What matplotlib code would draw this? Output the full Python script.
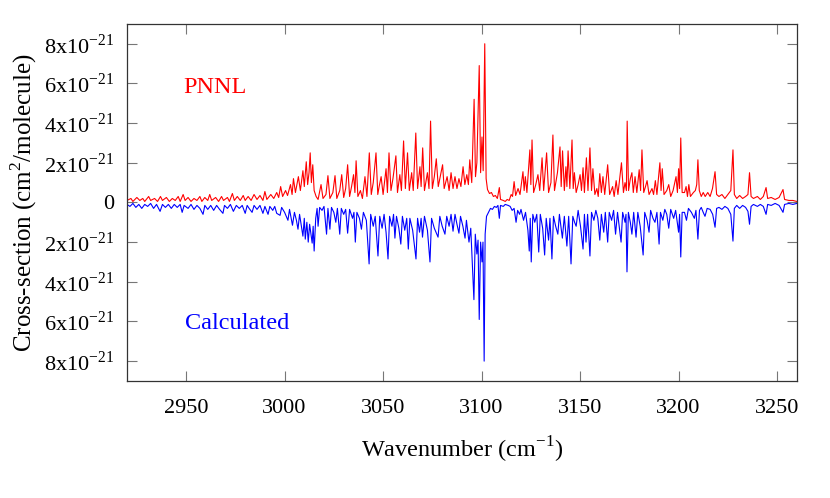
import matplotlib
matplotlib.use("Agg")
import numpy as np
from matplotlib import pyplot as plt

plt.rcParams['font.family'] = ['Liberation Serif', 'DejaVu Serif']
plt.rcParams['mathtext.fontset'] = 'custom'
plt.rcParams['mathtext.rm'] = 'Liberation Serif'

# PNNL measured spectrum, wavenumber (cm-1) and cross-section (1e-21 cm2/molecule)
pnnl_wn = [2920, 2922, 2923, 2925, 2926.5, 2928, 2929, 2931, 2932, 2934, 2935.5, 2937, 2938, 2940, 2941.5,
           2943, 2944.5, 2946, 2947, 2948.5, 2949.5, 2951, 2952.5, 2954, 2955.5, 2957, 2958, 2959.5, 2961,
           2962, 2963, 2965, 2966.5, 2968, 2969, 2971, 2972, 2973.5, 2974.5, 2976, 2977.5, 2979, 2980,
           2981.5, 2983, 2984.5, 2986, 2987.5, 2989, 2990, 2991, 2993, 2994.5, 2996, 2997, 2998, 2999,
           3000.5, 3001.5, 3003, 3003.8, 3004.5, 3005.5, 3007, 3008, 3009.3, 3010, 3011, 3011.7, 3012.4,
           3013, 3013.6, 3014.3, 3015, 3016, 3017, 3018.5, 3019.5, 3021, 3022, 3023, 3024.5, 3025.6, 3026.5,
           3028, 3029, 3030, 3031, 3032, 3033, 3034, 3035, 3035.7, 3036.3, 3037.2, 3038.5, 3039.5, 3040.8,
           3041.8, 3043, 3044, 3045, 3046.4, 3047.3, 3048, 3049, 3050, 3051.5, 3052.2, 3053, 3054, 3055,
           3056.5, 3057.3, 3058.5, 3059.3, 3060.4, 3061.3, 3062.4, 3063.3, 3064.5, 3065.3, 3066.6, 3067.5,
           3068.7, 3069.3, 3070.1, 3071, 3072.5, 3073.3, 3074.1, 3075, 3076, 3077, 3078, 3079, 3080.2, 3081,
           3082.5, 3083.5, 3084.5, 3085.5, 3086.5, 3087.5, 3088.5, 3089.5, 3090.6, 3091.5, 3092.5, 3093.3,
           3094, 3095, 3096.2, 3096.9, 3097.6, 3098.8, 3099.5, 3100.2, 3100.8, 3101.6, 3102.3, 3103, 3104,
           3105, 3106, 3107, 3108, 3109, 3109.6, 3111, 3112, 3113, 3114, 3115, 3115.7, 3116.5, 3117.3,
           3118.5, 3119.5, 3121, 3121.6, 3122.2, 3123, 3124.5, 3125, 3125.6, 3126.4, 3127.5, 3128.6, 3129.5,
           3130.7, 3131.5, 3133, 3134, 3135.2, 3136.2, 3137, 3138.5, 3139.8, 3140.4, 3141.1, 3142, 3142.8,
           3143.3, 3143.9, 3144.8, 3145.9, 3146.5, 3147.1, 3148, 3149, 3150, 3150.7, 3151.5, 3152.2, 3153.2,
           3154, 3155, 3155.8, 3156.5, 3157.5, 3158.5, 3159.2, 3160, 3160.8, 3161.6, 3162.5, 3164, 3165,
           3166.5, 3167.3, 3168.3, 3169.2, 3171, 3172, 3172.8, 3173.5, 3173.9, 3174.6, 3175.5, 3176.3, 3177,
           3177.9, 3178.8, 3180, 3180.7, 3181.4, 3182.3, 3183.2, 3184, 3185, 3186.5, 3187.3, 3188.2, 3189,
           3190.5, 3191.1, 3191.7, 3192.6, 3194, 3195, 3196, 3197.2, 3198.7, 3199.4, 3200, 3200.5, 3201.1,
           3201.8, 3203, 3203.8, 3204.5, 3205.2, 3206, 3207.5, 3208.5, 3209.2, 3209.8, 3210.5, 3211.5,
           3212.5, 3213.5, 3214.8, 3216, 3217.2, 3218.5, 3219.3, 3220.5, 3222, 3223.5, 3225, 3226.5, 3227.6,
           3228.3, 3229.5, 3231, 3232.5, 3234, 3235.2, 3236, 3236.8, 3238, 3240, 3241.5, 3243, 3244.4,
           3245.2, 3247, 3249, 3251, 3253, 3253.8, 3256, 3258, 3260]
pnnl_xs = [0.1, 0.2, 0.05, 0.25, 0.1, 0.2, 0.05, 0.3, 0.1, 0.2, 0.05, 0.3, 0.1, 0.25, 0.05,
           0.2, 0.1, 0.3, 0.05, 0.4, 0.1, 0.25, 0.05, 0.2, 0.1, 0.3, 0.05, 0.25, 0.1,
           0.4, 0.1, 0.25, 0.05, 0.3, 0.1, 0.25, 0.05, 0.45, 0.1, 0.3, 0.1, 0.35, 0.1,
           0.3, 0.1, 0.4, 0.15, 0.35, 0.1, 0.55, 0.15, 0.4, 0.2, 0.5, 0.25, 0.8, 0.3,
           0.6, 0.35, 0.9, 0.4, 1.2, 0.5, 1.3, 0.6, 1.6, 0.8, 2.05, 0.9, 1.5,
           2.5, 1.0, 1.9, 0.6, 0.3, 0.15, 0.9, 0.2, 0.4, 1.35, 0.2, 0.5, 1.35, 0.2,
           0.6, 1.4, 0.25, 0.7, 1.9, 0.3, 0.8, 1.4, 0.5, 2.1, 0.3, 0.6, 0.2, 1.3,
           0.3, 2.5, 0.4, 1.0, 2.5, 0.4, 0.8, 1.3, 0.4, 1.7, 0.5, 2.5, 0.6, 1.2,
           2.35, 0.5, 1.4, 0.6, 3.1, 0.7, 2.5, 0.6, 1.5, 0.6, 3.5, 0.7,
           1.8, 0.8, 2.75, 0.6, 1.5, 0.7, 4.1, 0.7, 1.3, 2.2, 0.8, 1.3, 1.9, 0.7,
           1.3, 0.6, 1.5, 0.7, 1.3, 0.7, 1.2, 0.8, 1.8, 0.9, 1.4, 0.9,
           2.15, 1.0, 5.2, 1.3, 2.0, 6.9, 1.5, 3.3, 1.6, 8.0, 1.2, 0.65, 0.45,
           0.5, 0.3, 0.35, 0.2, 0.75, 0.15, 0.1, 0.05, 0.15, 0.1, 0.4, 0.3, 1.05, 0.35,
           0.7, 0.4, 1.55, 0.6, 1.3, 0.5, 2.65, 0.9, 3.15, 0.5, 0.9, 1.4, 0.6,
           2.25, 0.6, 2.5, 0.5, 1.0, 3.4, 0.6, 1.5, 2.8, 0.8, 2.6, 0.6, 1.8,
           0.8, 2.6, 0.7, 3.15, 0.7, 1.5, 0.5, 0.9, 1.4, 0.6, 1.75, 0.5, 2.25,
           0.6, 2.75, 0.6, 1.7, 0.4, 0.7, 0.3, 1.45, 0.5, 1.3, 0.4, 1.9, 0.4,
           0.8, 0.3, 1.1, 0.4, 2.0, 0.5, 1.0, 0.6, 4.1, 0.6, 1.2, 1.5, 0.5,
           1.3, 0.5, 1.65, 0.6, 2.65, 0.5, 0.8, 1.1, 0.4, 0.7, 0.4, 1.1, 0.4,
           2.0, 0.6, 1.7, 0.4, 0.6, 0.9, 0.3, 0.6, 1.3, 0.5, 1.7, 0.7, 3.25,
           0.5, 0.5, 0.8, 0.3, 0.9, 0.3, 0.5, 0.6, 0.9, 2.15, 0.6, 0.3,
           0.5, 0.3, 0.5, 0.3, 0.7, 1.55, 0.4, 0.3, 0.4, 0.2, 0.4, 0.6, 2.65,
           0.4, 0.2, 0.35, 0.2, 0.3, 0.4, 1.5, 0.3, 0.2, 0.3, 0.15, 0.3, 0.75,
           0.2, 0.25, 0.15, 0.25, 0.65, 0.15, 0.1, 0.1, 0.05]

# calculated spectrum, drawn downwards
calc_wn = [2920, 2921.5, 2923, 2924.5, 2926, 2927.5, 2929, 2930.5, 2932, 2933.5, 2935, 2936.8, 2938, 2939.5,
           2941, 2942.5, 2944, 2945.5, 2947, 2948, 2949, 2951, 2952.5, 2954, 2955.5, 2957, 2958.6, 2959.5,
           2961, 2962.5, 2964, 2965.5, 2967, 2968.7, 2969.5, 2971, 2972.5, 2974, 2975.5, 2977, 2978.5, 2980,
           2981, 2982, 2983.5, 2984.5, 2986, 2987.5, 2989, 2990, 2991.6, 2992.5, 2994, 2995, 2996, 2997.7,
           2998.5, 3000, 3001.7, 3002.5, 3004, 3005, 3006, 3006.8, 3007.6, 3008.5, 3009.3, 3010, 3010.5,
           3011.3, 3012, 3012.7, 3013.4, 3014, 3014.5, 3015, 3015.8, 3016.5, 3017, 3017.8, 3019, 3020,
           3021.3, 3022, 3023, 3023.8, 3025, 3026, 3026.8, 3028, 3028.8, 3030, 3031, 3032, 3033, 3034.5,
           3035.2, 3035.9, 3036.7, 3038, 3039, 3040, 3041.5, 3042.9, 3043.7, 3045, 3046, 3047.4, 3048.3,
           3049.5, 3050.5, 3051.5, 3052.5, 3053.3, 3054.5, 3055.3, 3056, 3056.8, 3058, 3059, 3059.8, 3061,
           3062, 3062.8, 3063.6, 3065, 3066.7, 3067.5, 3068.5, 3069.3, 3070, 3071, 3072.5, 3073.8, 3074.6,
           3076, 3077.9, 3078.8, 3080, 3081.4, 3082.3, 3083.5, 3084.5, 3085.5, 3086.5, 3087.5, 3088.5,
           3089.3, 3090.5, 3091.6, 3092.3, 3093.6, 3094.5, 3096.1, 3096.8, 3097.6, 3098.2, 3098.8, 3099.5,
           3100.2, 3100.7, 3101.3, 3101.8, 3102.5, 3103.5, 3104.5, 3105.5, 3106.5, 3107.5, 3108.3, 3109,
           3109.6, 3111, 3112, 3113.5, 3114.5, 3115.5, 3116.5, 3117.5, 3118.3, 3119.3, 3120, 3121.3, 3122.3,
           3123.5, 3124.2, 3124.7, 3125.2, 3126, 3127, 3128, 3129, 3129.8, 3131, 3132, 3132.8, 3134, 3134.7,
           3135.7, 3136.5, 3137.6, 3138.7, 3139.5, 3141, 3142, 3143.3, 3144.2, 3145.4, 3146.3, 3147.2, 3148,
           3149, 3150.2, 3151.5, 3152.2, 3153, 3153.8, 3155, 3155.8, 3157, 3158, 3159, 3160, 3160.8, 3162,
           3162.8, 3164, 3164.8, 3166, 3167, 3168, 3169, 3170.8, 3171.6, 3172.8, 3173.3, 3173.8, 3174.5,
           3175.5, 3176.3, 3177.2, 3178.4, 3179.3, 3180.5, 3182, 3182.8, 3184, 3185, 3185.8, 3187, 3188,
           3189, 3190.1, 3190.8, 3192, 3193, 3194, 3195, 3196, 3197.5, 3198.5, 3200, 3200.5, 3201.1, 3201.8,
           3203, 3204, 3205, 3206.5, 3208, 3208.8, 3209.8, 3210.6, 3211.5, 3212.5, 3213.4, 3214.5, 3216,
           3217.3, 3218.5, 3219.3, 3220.5, 3222, 3223.5, 3225, 3226.5, 3227.6, 3228.3, 3229.5, 3231, 3232.5,
           3234, 3235.2, 3236, 3236.8, 3238, 3240, 3241.5, 3243, 3244.4, 3245.2, 3247, 3249, 3251, 3253,
           3253.8, 3256, 3258, 3260]
calc_xs = [-0.1, -0.2, -0.05, -0.25, -0.1, -0.3, -0.1, -0.2, -0.05, -0.3, -0.1, -0.45, -0.1, -0.25,
           -0.1, -0.3, -0.1, -0.25, -0.1, -0.5, -0.15, -0.3, -0.1, -0.35, -0.15, -0.3, -0.6, -0.15,
           -0.35, -0.15, -0.4, -0.15, -0.35, -0.55, -0.15, -0.3, -0.1, -0.45, -0.15, -0.3, -0.15, -0.55,
           -0.15, -0.3, -0.5, -0.15, -0.35, -0.15, -0.55, -0.2, -0.6, -0.2, -0.4, -0.2, -0.55, -0.65,
           -0.25, -0.5, -0.9, -0.35, -1.15, -0.5, -0.9, -1.35, -0.6, -1.2, -1.7, -0.8, -1.85,
           -1.0, -2.0, -1.1, -1.6, -2.05, -1.2, -2.45, -0.8, -0.3, -1.2, -0.25, -0.4, -0.2,
           -1.6, -0.3, -1.35, -0.25, -0.5, -1.0, -0.3, -1.6, -0.3, -0.6, -0.35, -1.55, -0.35, -0.8,
           -0.5, -2.0, -0.5, -0.8, -1.35, -0.5, -0.9, -3.1, -0.6, -1.2, -0.7, -2.7, -0.7,
           -1.3, -0.6, -1.5, -2.85, -0.7, -1.2, -0.6, -1.8, -0.7, -1.3, -2.1, -0.7, -1.4,
           -0.8, -2.35, -0.8, -1.4, -2.85, -0.8, -1.5, -0.8, -1.75, -0.7, -1.4, -3.0, -0.8,
           -1.3, -1.75, -0.7, -1.2, -1.6, -0.7, -1.2, -0.6, -1.45, -0.6, -1.1, -1.55,
           -0.7, -1.2, -1.8, -0.9, -2.0, -1.3, -4.9, -1.6, -2.6, -1.9, -5.9, -2.0,
           -3.0, -2.0, -8.0, -1.6, -0.7, -0.5, -0.3, -0.35, -0.2, -0.25, -0.15, -0.8,
           -0.15, -0.2, -0.1, -0.15, -0.2, -0.4, -0.3, -1.0, -0.4, -0.6, -0.35, -0.9, -0.5,
           -1.4, -2.45, -0.8, -3.0, -0.6, -1.0, -0.6, -2.5, -0.6, -1.3, -2.65, -0.8, -1.9, -0.8,
           -2.85, -0.7, -1.2, -1.6, -0.6, -1.8, -0.7, -2.2, -0.7, -3.1, -0.7, -1.0, -1.2,
           -0.4, -1.2, -2.35, -0.6, -2.0, -0.6, -2.7, -0.5, -0.9, -0.4, -0.8, -1.9, -0.6, -1.5,
           -0.5, -2.0, -0.5, -0.9, -0.4, -1.6, -0.5, -2.0, -0.5, -1.0, -0.6, -3.5, -0.5,
           -1.0, -1.6, -0.5, -1.75, -0.5, -1.2, -2.65, -0.5, -0.9, -1.5, -0.4, -0.8, -1.0,
           -0.5, -2.1, -0.5, -0.9, -0.35, -0.6, -1.3, -0.35, -0.8, -0.4, -1.5, -0.6, -2.75, -0.5,
           -0.5, -0.9, -0.3, -0.5, -0.8, -0.4, -1.85, -0.4, -0.25, -0.5, -0.7, -0.3, -0.35,
           -0.6, -1.25, -0.3, -0.25, -0.35, -0.2, -0.3, -0.6, -1.95, -0.3, -0.15, -0.3, -0.15,
           -0.25, -0.45, -1.1, -0.2, -0.1, -0.2, -0.1, -0.2, -0.6, -0.1, -0.15, -0.05, -0.15, -0.5,
           -0.1, -0.05, -0.1, -0.05]

ytick_vals = [-8, -6, -4, -2, 0, 2, 4, 6, 8]
ytick_labels = ['8x10$^{-21}$', '6x10$^{-21}$', '4x10$^{-21}$', '2x10$^{-21}$', '0',
                '2x10$^{-21}$', '4x10$^{-21}$', '6x10$^{-21}$', '8x10$^{-21}$']
xtick_vals = [2950, 3000, 3050, 3100, 3150, 3200, 3250]

fig = plt.figure(figsize=(8.3, 4.98), dpi=100)
ax = fig.add_axes([0.153, 0.235, 0.807, 0.717])

ax.plot(pnnl_wn, pnnl_xs, '-', color='#ff0000', lw=0.8)
ax.plot(calc_wn, calc_xs, '-', color='#0000ff', lw=0.8)

ax.set_xlim(2920, 3260)
ax.set_ylim(-9, 9)
ax.set_xticks(xtick_vals)
ax.set_yticks(ytick_vals)
ax.set_yticklabels(ytick_labels)

ax.tick_params(direction='in', length=7, width=0.8, color='#777777',
               top=True, right=True, labelsize=16)
ax.tick_params(axis='x', pad=13)
ax.tick_params(axis='y', pad=9)
for s in ax.spines.values():
    s.set_color('#333333')
    s.set_linewidth(0.9)

ax.text(2948.5, 5.8, 'PNNL', color='#ff0000', fontsize=17.5, va='center')
ax.text(2949.5, -6.1, 'Calculated', color='#0000ff', fontsize=17.5, va='center')

ax.set_xlabel('Wavenumber (cm$^{-1}$)', fontsize=17.5, labelpad=12)
ax.set_ylabel('Cross-section (cm$^{2}$/molecule)', fontsize=18, labelpad=4)

fig.savefig('out.png', dpi=100)
